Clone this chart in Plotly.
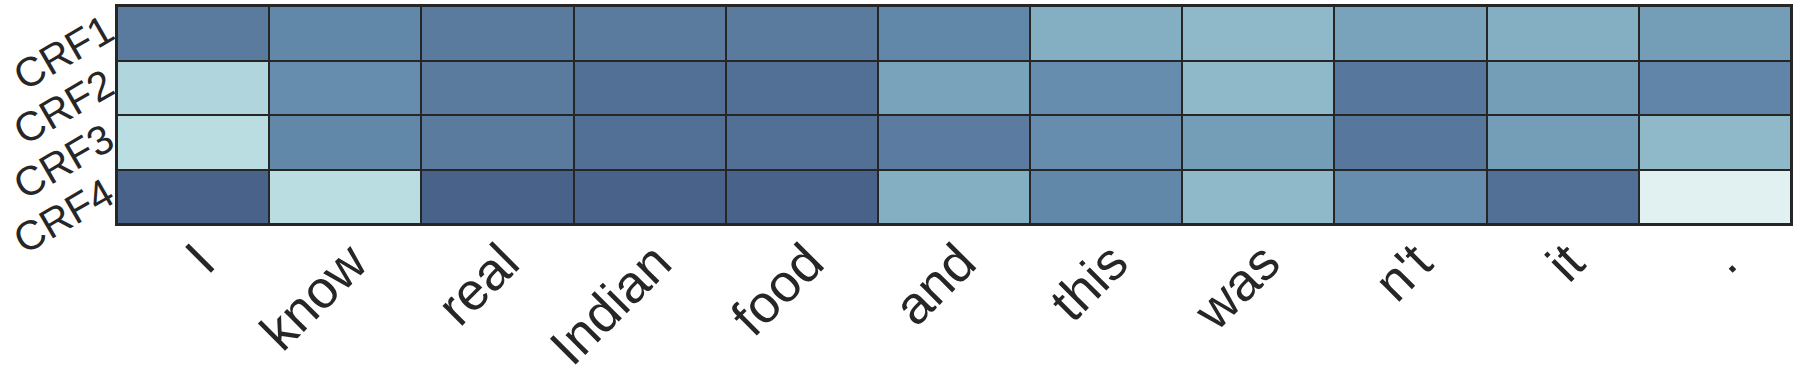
import plotly.graph_objects as go

tokens = ["I", "know", "real", "Indian", "food", "and", "this", "was", "n't", "it", "."]
rows = ["CRF1", "CRF2", "CRF3", "CRF4"]

crf1 = [0.80, 0.66, 0.80, 0.80, 0.80, 0.66, 0.42, 0.35, 0.50, 0.42, 0.53]
crf2 = [0.22, 0.62, 0.80, 0.88, 0.88, 0.50, 0.62, 0.35, 0.82, 0.53, 0.68]
crf3 = [0.18, 0.66, 0.80, 0.88, 0.88, 0.78, 0.62, 0.53, 0.82, 0.53, 0.35]
crf4 = [0.97, 0.18, 0.97, 0.97, 0.97, 0.42, 0.66, 0.35, 0.62, 0.88, 0.02]

colorscale = [
    [0.0, "#e6f3f3"],
    [0.2, "#b5dae0"],
    [0.35, "#8fb8c9"],
    [0.5, "#78a3bb"],
    [0.65, "#6288aa"],
    [0.8, "#5a7a9e"],
    [0.9, "#506d94"],
    [1.0, "#455d85"],
]

fig = go.Figure(go.Heatmap(
    z=[crf1, crf2, crf3, crf4],
    x=tokens,
    y=rows,
    zmin=0, zmax=1,
    colorscale=colorscale,
    showscale=False,
    xgap=2, ygap=2,
))

font_family = "Liberation Sans, Arial, sans-serif"
fig.update_layout(
    width=1798, height=382,
    margin=dict(l=117, r=7, t=6, b=158),
    paper_bgcolor="white",
    plot_bgcolor="#262626",
    font=dict(family=font_family, color="#262626"),
)
fig.update_xaxes(
    tickangle=-45, tickfont=dict(size=53, family=font_family, color="#262626"),
    showline=True, linecolor="#262626", linewidth=2, mirror=True,
    ticks="", showgrid=False, zeroline=False, automargin=False,
    ticklabelstandoff=-16, ticklabelshift=6,
)
fig.update_yaxes(
    autorange="reversed", tickangle=-30,
    tickfont=dict(size=41, family=font_family, color="#262626"),
    showline=True, linecolor="#262626", linewidth=2, mirror=True,
    ticks="", showgrid=False, zeroline=False, automargin=False,
    ticklabelshift=7,
)

fig.write_html("out.html")
